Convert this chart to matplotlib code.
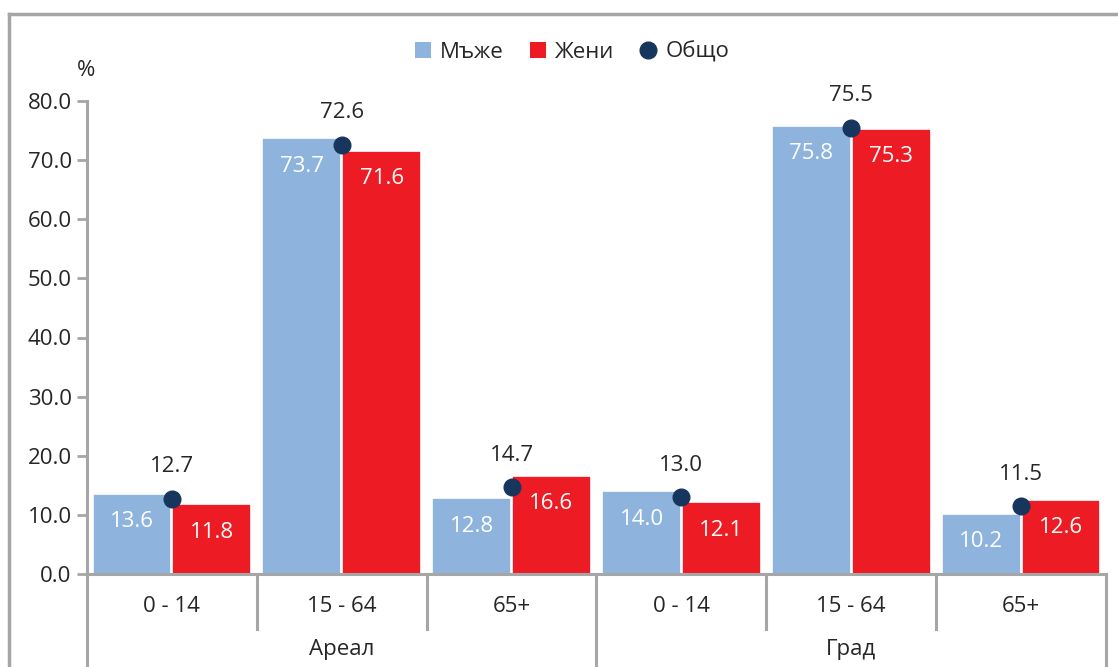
import matplotlib
matplotlib.use("Agg")
import matplotlib.pyplot as plt
from matplotlib.lines import Line2D
from matplotlib.patches import Patch
import numpy as np

plt.rcParams['font.family'] = ['Open Sans', 'DejaVu Sans']

groups = ["Ареал", "Град"]
categories = ["0 - 14", "15 - 64", "65+", "0 - 14", "15 - 64", "65+"]
men = [13.6, 73.7, 12.8, 14.0, 75.8, 10.2]
women = [11.8, 71.6, 16.6, 12.1, 75.3, 12.6]
total = [12.7, 72.6, 14.7, 13.0, 75.5, 11.5]
yticks = [0, 10, 20, 30, 40, 50, 60, 70, 80]

BLUE = "#8EB4DE"
RED = "#ED1C24"
NAVY = "#17365D"
GRAY = "#A6A6A6"
TXT = "#262626"

W, H = 1118, 667
fig = plt.figure(figsize=(W / 100, H / 100), dpi=100)
ax = fig.add_axes([87 / W, 1 - 574 / H, (1106 - 87) / W, (574 - 101) / H])

x = np.arange(len(categories))
bw = 0.465
ax.bar(x - 0.235, men, width=bw, color=BLUE, edgecolor="white", linewidth=1.2, zorder=2)
ax.bar(x + 0.235, women, width=bw, color=RED, edgecolor="white", linewidth=1.2, zorder=2)
ax.plot(x, total, linestyle="none", marker="o", markersize=12, color=NAVY, zorder=4, clip_on=False)

fs = 16
for xi, v in zip(x - 0.235, men):
    ax.annotate(f"{v:.1f}", (xi, v), xytext=(0, -20), textcoords="offset points",
                ha="center", va="center", color="white", fontsize=fs, zorder=5)
for xi, v in zip(x + 0.235, women):
    ax.annotate(f"{v:.1f}", (xi, v), xytext=(0, -20), textcoords="offset points",
                ha="center", va="center", color="white", fontsize=fs, zorder=5)
for xi, v in zip(x, total):
    ax.annotate(f"{v:.1f}", (xi, v), xytext=(0, 23), textcoords="offset points",
                ha="center", va="center", color=TXT, fontsize=fs, zorder=5)

ax.set_xlim(-0.5, len(categories) - 0.5)
ax.set_ylim(0, 80)
ax.set_yticks(yticks)
ax.set_yticklabels([f"{t:.1f}" for t in yticks], fontsize=fs, color=TXT)
ax.tick_params(axis="y", length=7, width=2, color=GRAY, pad=4)
ax.set_xticks([])
for s in ["top", "right"]:
    ax.spines[s].set_visible(False)
for s in ["left", "bottom"]:
    ax.spines[s].set_color(GRAY)
    ax.spines[s].set_linewidth(2.2)

px = 1 / 473.0
trans = ax.get_xaxis_transform()
for xi, c in zip(x, categories):
    ax.text(xi, -33 * px, c, transform=trans, ha="center", va="center",
            fontsize=fs, color=TXT)
for gi, g in enumerate(groups):
    ax.text(gi * 3 + 1, -75 * px, g, transform=trans, ha="center",
            va="center", fontsize=fs, color=TXT)
for b in np.arange(-0.5, len(categories), 1.0):
    if abs((b + 0.5) % 3) < 1e-9:
        y1 = -1.0
    else:
        y1 = -55 * px
    ax.add_line(Line2D([b, b], [0, y1], transform=trans, color=GRAY, linewidth=2.2,
                       clip_on=False, zorder=1))

fig.text(86 / W, 1 - 70 / H, "%", ha="center", va="center", fontsize=fs, color=TXT)

handles = [Patch(facecolor=BLUE, edgecolor="none"), Patch(facecolor=RED, edgecolor="none"),
           Line2D([], [], linestyle="none", marker="o", markersize=12, color=NAVY)]
fig.legend(handles, ["Мъже", "Жени", "Общо"], loc="center", bbox_to_anchor=(572 / W, 1 - 52 / H),
           ncol=3, frameon=False, fontsize=fs, handlelength=0.75, handleheight=0.75,
           handletextpad=0.4, columnspacing=1.15, labelcolor=TXT)

fig.add_artist(Line2D([9 / W, 9 / W], [0, 1 - 14 / H], transform=fig.transFigure, color=GRAY, linewidth=2.5))
fig.add_artist(Line2D([9 / W, 1], [1 - 14 / H, 1 - 14 / H], transform=fig.transFigure, color=GRAY, linewidth=2.5))

fig.savefig("out.png", dpi=100, facecolor="white")
